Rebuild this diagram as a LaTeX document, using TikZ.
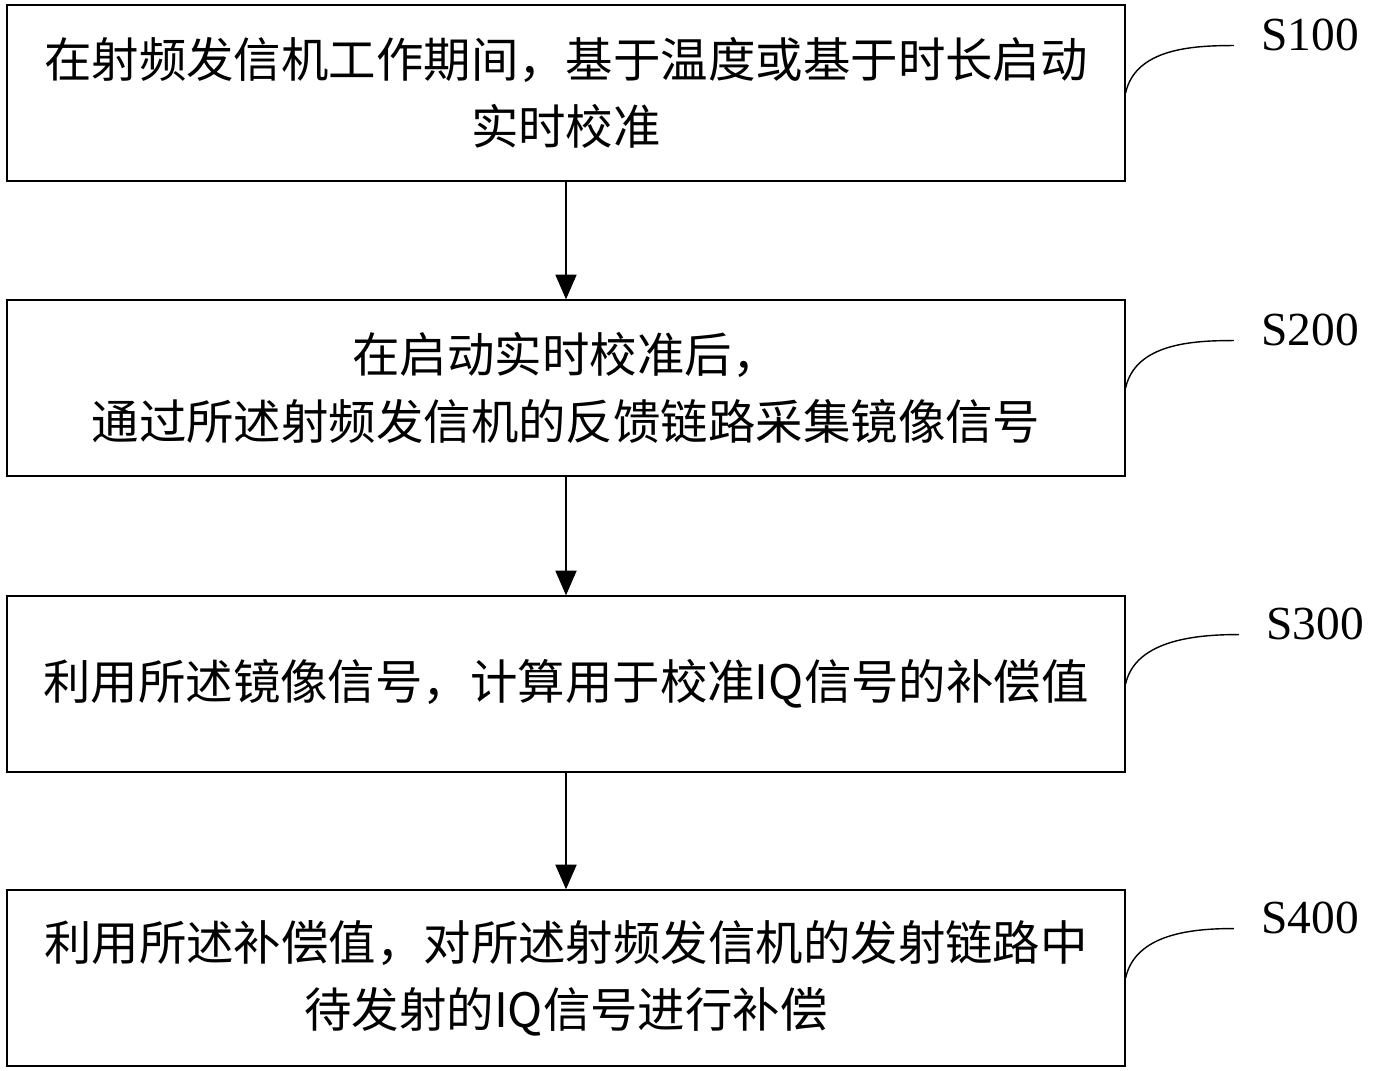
\documentclass[tikz,border=0pt]{standalone}
\usepackage{fontspec}
\setmainfont{Liberation Serif}
\newfontfamily\cjk{Noto Sans CJK SC}
\usetikzlibrary{positioning,arrows.meta}
\begin{document}
\begin{tikzpicture}[x=0.02cm,y=-0.02cm,
    stepbox/.style={draw,thick,minimum width=22.36cm,minimum height=3.52cm,text width=22cm,align=center,
      font=\cjk\fontsize{27}{38}\selectfont},
    lbl/.style={font=\fontsize{27}{32}\selectfont},
    flow/.style={-{Triangle[length=14pt,width=12pt]},thick}]
  \useasboundingbox (0,0) rectangle (1373,1071);
  \node[stepbox] (s1) at (566,93) {在射频发信机工作期间，基于温度或基于时长启动\\实时校准};
  \node[stepbox] (s2) at (566,388) {在启动实时校准后，\\通过所述射频发信机的反馈链路采集镜像信号};
  \node[stepbox] (s3) at (566,684) {利用所述镜像信号，计算用于校准IQ信号的补偿值};
  \node[stepbox] (s4) at (566,978) {利用所述补偿值，对所述射频发信机的发射链路中\\待发射的IQ信号进行补偿};
  \node[lbl] (l1) at (1310,35) {S100};
  \node[lbl] (l2) at (1310,330) {S200};
  \node[lbl] (l3) at (1315,624) {S300};
  \node[lbl] (l4) at (1310,918) {S400};
  \foreach \a/\b in {s1/s2,s2/s3,s3/s4}
    \draw[flow] (\a) -- (\b);
  \foreach \s/\l in {s1/l1,s2/l2,s3/l3,s4/l4}
    \draw[thick] (\s.east) .. controls +(10,-45) and +(-40,0) .. ([xshift=-12pt,yshift=-6pt]\l.west);
\end{tikzpicture}
\end{document}
